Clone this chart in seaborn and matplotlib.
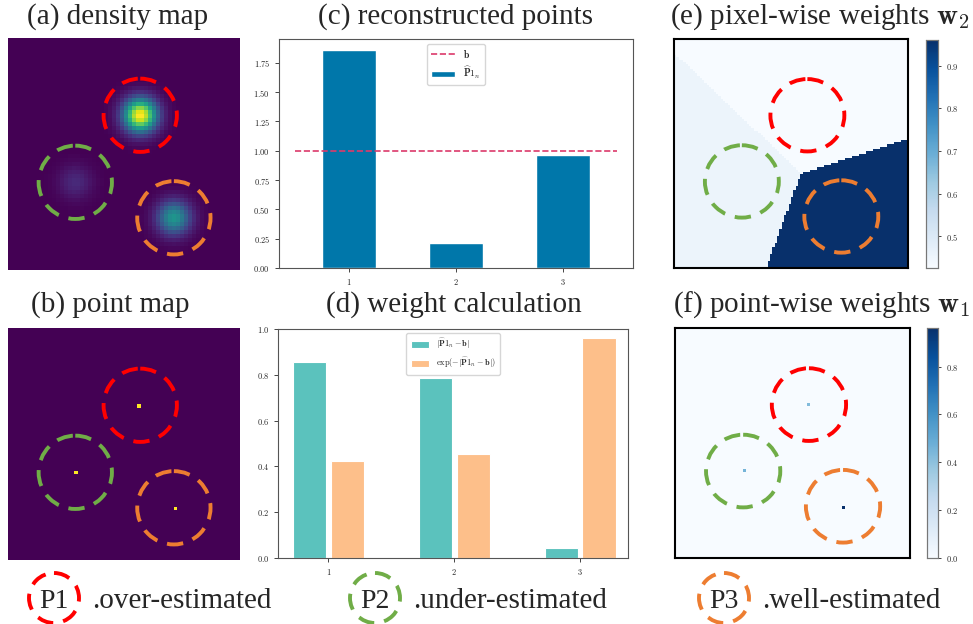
import numpy as np
import pandas as pd
import matplotlib
matplotlib.use("Agg")
import matplotlib.pyplot as plt
import seaborn as sns
from matplotlib.patches import Circle

W, H = 973, 624

# ---- data ----
point_ids = [1, 2, 3]
point_x = [0.57, 0.29, 0.715]      # centre of each crowd, fraction of image width
point_y = [0.333, 0.622, 0.775]    # fraction of image height (from top)
ring_colors = ["#ff0000", "#70ad47", "#ed7d31"]
recon = [1.858, 0.216, 0.963]      # reconstructed points per region
b_target = 1.0
abs_err = [0.857, 0.787, 0.043]    # |P1_n - b|
exp_weight = [0.425, 0.455, 0.961] # exp(-|P1_n - b|)
point_count = [1, 1, 1]
blob_sigma = 0.05
ring_radius = 0.158
case_names = ["P1", "P2", "P3"]
case_notes = [".over-estimated", ".under-estimated", ".well-estimated"]

BAR_BLUE = "#0077aa"
LINE_RED = "#dc3a6b"
TEAL = "#5bc2bd"
PEACH = "#fdbf8a"
SERIF = "Liberation Serif"

sns.set_style("ticks")
plt.rcParams["font.family"] = "cmr10"
plt.rcParams["mathtext.fontset"] = "cm"
plt.rcParams["axes.formatter.use_mathtext"] = True
plt.rcParams["axes.edgecolor"] = "#555555"


def rect(x0, y0, x1, y1):
    """pixel box (top-left origin) -> figure fraction rect"""
    return [x0 / W, 1 - y1 / H, (x1 - x0) / W, (y1 - y0) / H]


def centres(n):
    c = (np.arange(n) + 0.5) / n
    return np.meshgrid(c, c)


def add_rings(ax, n):
    for x, y, col in zip(point_x, point_y, ring_colors):
        ax.add_patch(Circle((x * n, y * n), ring_radius * n, fill=False,
                            ec=col, lw=2.8, ls=(0, (4.2, 2.6))))


def frame(ax):
    for s in ax.spines.values():
        s.set_visible(True)
        s.set_color("black")
        s.set_linewidth(1.5)


def style_cbar(cax):
    cax.tick_params(labelsize=6, length=2.5, width=0.6)
    for s in cax.spines.values():
        s.set_visible(True)
        s.set_color("#777777")
        s.set_linewidth(0.8)


fig = plt.figure(figsize=(W / 100, H / 100), dpi=100)

# (a) density map
n_a = 58
gx, gy = centres(n_a)
dens = np.zeros_like(gx)
for x, y, m in zip(point_x, point_y, recon):
    dens += m * np.exp(-((gx - x) ** 2 + (gy - y) ** 2) / (2 * blob_sigma ** 2))
ax_a = fig.add_axes(rect(8, 38, 240, 270))
sns.heatmap(dens, ax=ax_a, cmap="viridis", cbar=False,
            xticklabels=False, yticklabels=False)
add_rings(ax_a, n_a)

# (b) point map
n_b = 70
pmap = np.zeros((n_b, n_b))
for x, y, c in zip(point_x, point_y, point_count):
    pmap[int(y * n_b), int(x * n_b)] = c
ax_b = fig.add_axes(rect(8, 328, 240, 560))
sns.heatmap(pmap, ax=ax_b, cmap="viridis", cbar=False,
            xticklabels=False, yticklabels=False)
add_rings(ax_b, n_b)

# (c) reconstructed points
ax_c = fig.add_axes(rect(279, 39, 633, 268))
df_c = pd.DataFrame({"pt": point_ids, "val": recon})
ax_c.hlines(b_target, point_ids[0] - 0.5, point_ids[-1] + 0.5, colors=LINE_RED,
            linestyles="--", lw=1.2, label=r"$\mathbf{b}$")
sns.barplot(data=df_c, x="pt", y="val", native_scale=True, width=0.5,
            color=BAR_BLUE, saturation=1, ax=ax_c,
            label=r"$\widehat{\mathbf{P}}\mathbf{1}_n$")
ax_c.set_xlim(0.35, 3.65)
ax_c.set_ylim(0, 1.953)
ax_c.set_yticks([0, 0.25, 0.5, 0.75, 1.0, 1.25, 1.5, 1.75])
ax_c.set_xticks(point_ids)
ax_c.set_xlabel("")
ax_c.set_ylabel("")
ax_c.tick_params(labelsize=6, length=3, width=0.6)
ax_c.legend(loc="upper center", fontsize=7, handlelength=2.5)

# (d) weight calculation
lab_abs = r"$|\widehat{\mathbf{P}}\mathbf{1}_n-\mathbf{b}|$"
lab_exp = r"$\exp(-|\widehat{\mathbf{P}}\mathbf{1}_n-\mathbf{b}|)$"
df_d = pd.DataFrame({
    "pt": point_ids * 2,
    "val": abs_err + exp_weight,
    "kind": [lab_abs] * 3 + [lab_exp] * 3,
})
ax_d = fig.add_axes(rect(278, 329, 628, 558))
sns.barplot(data=df_d, x="pt", y="val", hue="kind", native_scale=True,
            width=0.6, gap=0.12, palette=[TEAL, PEACH], saturation=1,
            edgecolor="white", linewidth=0.8, ax=ax_d)
ax_d.set_xlim(0.6, 3.38)
ax_d.set_ylim(0, 1.0)
ax_d.set_xticks(point_ids)
ax_d.set_xlabel("")
ax_d.set_ylabel("")
ax_d.tick_params(labelsize=6, length=3, width=0.6)
sns.move_legend(ax_d, "upper center", title=None, fontsize=6, frameon=True,
                borderpad=0.5, labelspacing=0.6, handlelength=2.2,
                handleheight=0.8)

# (e) pixel-wise weights
n_e = 100
gx, gy = centres(n_e)
dist = np.stack([(gx - x) ** 2 + (gy - y) ** 2 for x, y in zip(point_x, point_y)])
wmap = np.array(exp_weight)[dist.argmin(axis=0)]
ax_e = fig.add_axes(rect(674, 39, 908, 268))
cax_e = fig.add_axes(rect(926, 40, 938, 268))
sns.heatmap(wmap, ax=ax_e, cmap="Blues", cbar_ax=cax_e,
            xticklabels=False, yticklabels=False,
            cbar_kws={"ticks": [0.5, 0.6, 0.7, 0.8, 0.9]})
add_rings(ax_e, n_e)
frame(ax_e)
style_cbar(cax_e)

# (f) point-wise weights
n_f = 80
wpts = np.zeros((n_f, n_f))
for x, y, w in zip(point_x, point_y, exp_weight):
    wpts[int(y * n_f), int(x * n_f)] = w
ax_f = fig.add_axes(rect(675, 328, 910, 558))
cax_f = fig.add_axes(rect(927, 328, 938, 558))
sns.heatmap(wpts, ax=ax_f, cmap="Blues", cbar_ax=cax_f,
            xticklabels=False, yticklabels=False,
            cbar_kws={"ticks": [0.0, 0.2, 0.4, 0.6, 0.8]})
add_rings(ax_f, n_f)
frame(ax_f)
style_cbar(cax_f)

# panel titles
titles = [
    (118, 17, "(a) density map"),
    (456, 17, "(c) reconstructed points"),
    (820, 17, r"(e) pixel-wise weights $\mathbf{w}_2$"),
    (110, 305, "(b) point map"),
    (454, 305, "(d) weight calculation"),
    (822, 305, r"(f) point-wise weights $\mathbf{w}_1$"),
]
for x, y, t in titles:
    fig.text(x / W, 1 - y / H, t, ha="center", va="center",
             fontsize=21, family=SERIF)

# bottom key
key = fig.add_axes([0, 0, 1, 1], zorder=-1)
key.set_xlim(0, W)
key.set_ylim(H, 0)
key.axis("off")
key_x = [54, 375, 724]
for cx, col, name, note in zip(key_x, ring_colors, case_names, case_notes):
    key.add_patch(Circle((cx, 598), 25, fill=False, ec=col, lw=2.8,
                         ls=(0, (4.2, 2.6)), clip_on=False))
    key.text(cx, 601, name, ha="center", va="center", fontsize=20, family=SERIF)
    key.text(cx + 38, 601, note, ha="left", va="center", fontsize=21, family=SERIF)

fig.savefig("out.png", dpi=100)
